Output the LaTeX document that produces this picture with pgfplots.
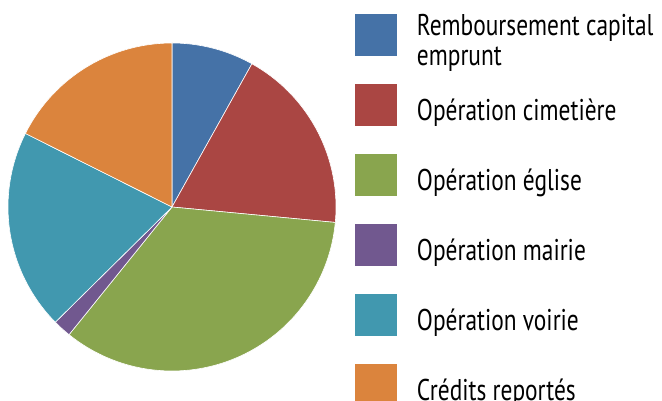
\documentclass[border=0pt]{standalone}
\usepackage{pgfplots}
\pgfplotsset{compat=1.18}
\usepackage{pgfplotstable}
\usepackage{fontspec}
\setmainfont{PT Sans}[FakeStretch=0.78]

\definecolor{cA}{HTML}{4572A7}
\definecolor{cB}{HTML}{AA4643}
\definecolor{cC}{HTML}{89A54E}
\definecolor{cD}{HTML}{71588F}
\definecolor{cE}{HTML}{4198AF}
\definecolor{cF}{HTML}{DB843D}

% share of each slice, in percent
\pgfplotstableread{
idx value
0 8.1
1 18.4
2 34.3
3 1.8
4 19.8
5 17.6
}\piedata

\pgfplotstablegetelem{0}{value}\of\piedata \edef\vA{\pgfplotsretval}
\pgfplotstablegetelem{1}{value}\of\piedata \edef\vB{\pgfplotsretval}
\pgfplotstablegetelem{2}{value}\of\piedata \edef\vC{\pgfplotsretval}
\pgfplotstablegetelem{3}{value}\of\piedata \edef\vD{\pgfplotsretval}
\pgfplotstablegetelem{4}{value}\of\piedata \edef\vE{\pgfplotsretval}
\pgfplotstablegetelem{5}{value}\of\piedata \edef\vF{\pgfplotsretval}
\pgfmathsetmacro\aA{90}
\pgfmathsetmacro\aB{\aA-3.6*\vA}
\pgfmathsetmacro\aC{\aB-3.6*\vB}
\pgfmathsetmacro\aD{\aC-3.6*\vC}
\pgfmathsetmacro\aE{\aD-3.6*\vD}
\pgfmathsetmacro\aF{\aE-3.6*\vE}
\pgfmathsetmacro\aG{\aF-3.6*\vF}

\begin{document}
\begin{tikzpicture}
\useasboundingbox (0,0) rectangle (662pt,401pt);
\begin{axis}[
  at={(8pt,30pt)}, anchor=south west,
  scale only axis, width=328pt, height=328pt,
  xmin=-1, xmax=1, ymin=-1, ymax=1,
  hide axis, clip=false,
  legend image code/.code={\fill[#1,draw=none] (0pt,-16pt) rectangle (42pt,26pt);},
  legend cell align=left,
  legend style={at={(1.0579,1.0884)}, anchor=north west, draw=none, fill=none,
    inner sep=0pt, outer sep=0pt, row sep=28pt, column sep=20pt,
    nodes={inner sep=0pt},
    font=\fontsize{30}{30}\selectfont},
]
\addplot[fill=cA, draw=white, line width=0.6pt, domain=\aA:\aB, samples=40, variable=\t] ({cos(\t)},{sin(\t)}) -- (axis cs:0,0) -- cycle;
\addlegendentry{\smash{\raisebox{4pt}{\begin{tabular}[t]{@{}l@{}}Remboursement capital\\emprunt\end{tabular}}}}
\addplot[fill=cB, draw=white, line width=0.6pt, domain=\aB:\aC, samples=60, variable=\t] ({cos(\t)},{sin(\t)}) -- (axis cs:0,0) -- cycle;
\addlegendentry{Opération cimetière}
\addplot[fill=cC, draw=white, line width=0.6pt, domain=\aC:\aD, samples=100, variable=\t] ({cos(\t)},{sin(\t)}) -- (axis cs:0,0) -- cycle;
\addlegendentry{Opération église}
\addplot[fill=cD, draw=white, line width=0.6pt, domain=\aD:\aE, samples=10, variable=\t] ({cos(\t)},{sin(\t)}) -- (axis cs:0,0) -- cycle;
\addlegendentry{Opération mairie}
\addplot[fill=cE, draw=white, line width=0.6pt, domain=\aE:\aF, samples=60, variable=\t] ({cos(\t)},{sin(\t)}) -- (axis cs:0,0) -- cycle;
\addlegendentry{Opération voirie}
\addplot[fill=cF, draw=white, line width=0.6pt, domain=\aF:\aG, samples=60, variable=\t] ({cos(\t)},{sin(\t)}) -- (axis cs:0,0) -- cycle;
\addlegendentry{Crédits reportés}
\end{axis}
\end{tikzpicture}
\end{document}
